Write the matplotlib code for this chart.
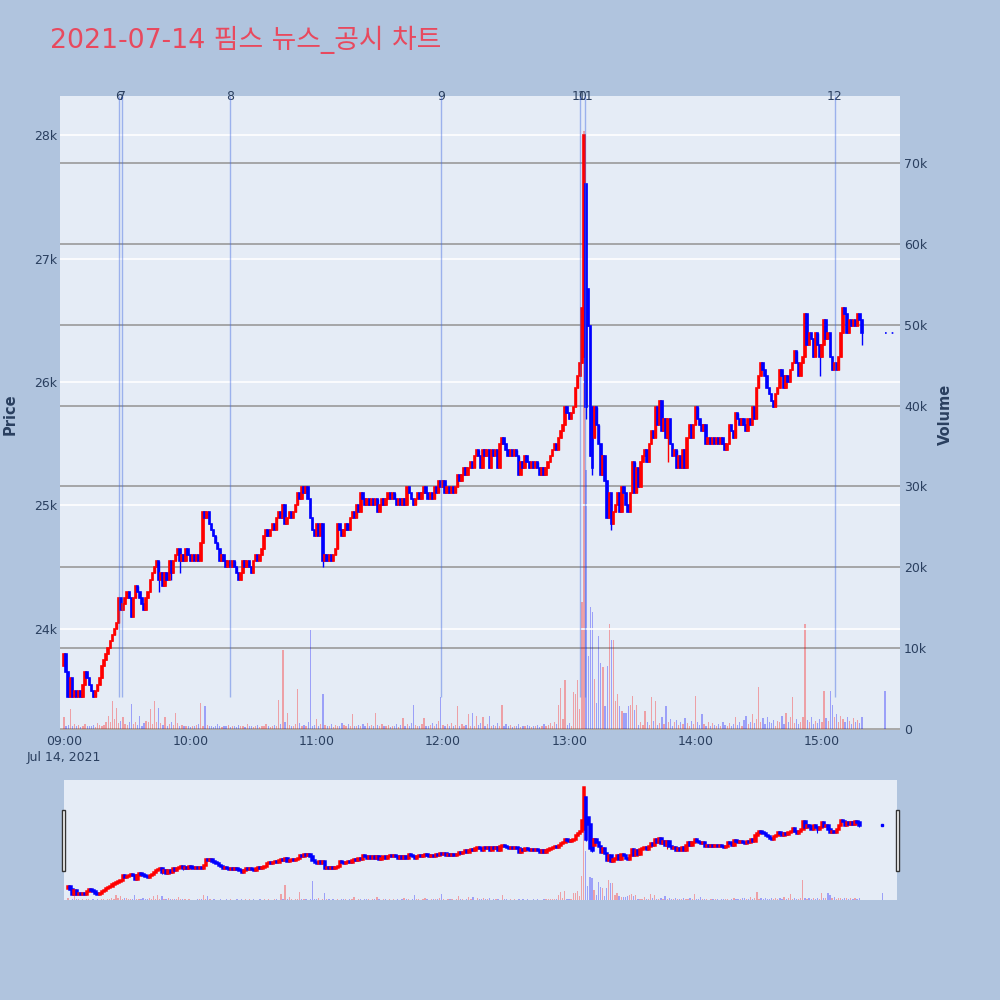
import matplotlib
matplotlib.use("Agg")
from matplotlib import pyplot as plt
from matplotlib.patches import Rectangle
from matplotlib.ticker import FuncFormatter
from matplotlib.transforms import blended_transform_factory

plt.rcParams["font.family"] = ["DejaVu Sans", "Noto Sans CJK KR"]

title = "2021-07-14 핌스 뉴스_공시 차트"
tick_labels = ["09:00", "10:00", "11:00", "12:00", "13:00", "14:00", "15:00"]
date_label = "Jul 14, 2021"

# minutes after 09:00, the last one is the 15:30 closing auction
minutes = list(range(380)) + [390]

closes = [
    23800, 23650, 23450, 23600, 23450, 23500, 23450, 23500, 23450, 23550,
    23650, 23600, 23550, 23500, 23450, 23500, 23550, 23600, 23700, 23750,
    23800, 23850, 23900, 23950, 24000, 24050, 24250, 24150, 24200, 24250,
    24300, 24250, 24100, 24250, 24350, 24300, 24250, 24200, 24150, 24250,
    24300, 24400, 24450, 24500, 24550, 24400, 24450, 24350, 24450, 24400,
    24550, 24450, 24550, 24600, 24650, 24550, 24600, 24550, 24650, 24600,
    24550, 24600, 24550, 24600, 24550, 24700, 24950, 24900, 24950, 24850,
    24800, 24750, 24700, 24650, 24550, 24600, 24550, 24500, 24550, 24500,
    24550, 24500, 24450, 24400, 24450, 24550, 24500, 24550, 24500, 24450,
    24550, 24600, 24550, 24600, 24650, 24750, 24800, 24750, 24800, 24850,
    24800, 24900, 24950, 24900, 25000, 24850, 24900, 24950, 24900, 24950,
    25000, 25100, 25050, 25150, 25100, 25150, 25050, 24900, 24800, 24750,
    24850, 24750, 24850, 24550, 24600, 24550, 24600, 24550, 24600, 24650,
    24850, 24800, 24750, 24800, 24850, 24800, 24900, 24950, 24900, 25000,
    24950, 25100, 25050, 25000, 25050, 25000, 25050, 25000, 25050, 24950,
    25000, 25050, 25000, 25050, 25100, 25050, 25100, 25050, 25000, 25050,
    25000, 25050, 25000, 25150, 25100, 25050, 25000, 25050, 25100, 25050,
    25100, 25150, 25100, 25050, 25100, 25050, 25150, 25100, 25200, 25150,
    25200, 25100, 25150, 25100, 25150, 25100, 25150, 25250, 25200, 25250,
    25300, 25250, 25300, 25350, 25300, 25400, 25450, 25400, 25300, 25450,
    25400, 25450, 25300, 25450, 25400, 25450, 25300, 25500, 25550, 25500,
    25450, 25400, 25450, 25400, 25450, 25400, 25250, 25350, 25300, 25400,
    25350, 25300, 25350, 25300, 25350, 25300, 25250, 25300, 25250, 25300,
    25350, 25400, 25450, 25500, 25450, 25550, 25600, 25650, 25800, 25750,
    25700, 25750, 25800, 25950, 26050, 26150, 26600, 28000, 25800, 26450,
    25400, 25300, 25800, 25650, 25500, 25250, 25400, 25200, 24900, 25100,
    24850, 24950, 25000, 25100, 24950, 25150, 25100, 25000, 24950, 25100,
    25350, 25100, 25300, 25150, 25350, 25400, 25450, 25350, 25500, 25600,
    25550, 25800, 25650, 25850, 25600, 25700, 25550, 25700, 25500, 25400,
    25450, 25300, 25400, 25300, 25450, 25300, 25550, 25650, 25550, 25650,
    25800, 25700, 25650, 25600, 25650, 25500, 25550, 25500, 25550, 25500,
    25550, 25500, 25550, 25500, 25450, 25500, 25650, 25600, 25550, 25750,
    25700, 25650, 25700, 25650, 25600, 25700, 25650, 25800, 25700, 25950,
    26050, 26150, 26100, 26050, 25950, 25900, 25850, 25800, 25900, 25950,
    26100, 26050, 25950, 26050, 26000, 26100, 26150, 26250, 26150, 26050,
    26150, 26200, 26550, 26300, 26400, 26350, 26200, 26400, 26300, 26200,
    26300, 26500, 26350, 26400, 26200, 26100, 26150, 26100, 26200, 26400,
    26600, 26550, 26400, 26500, 26450, 26500, 26450, 26550, 26500, 26400,
    26400,
]

volumes = [
    1400, 300, 500, 2500, 400, 600, 300, 500, 200, 400,
    600, 300, 400, 300, 500, 200, 700, 450, 300, 500,
    900, 1600, 800, 3500, 1200, 2600, 700, 1000, 1400, 600,
    500, 800, 3100, 600, 800, 500, 1600, 400, 700, 1000,
    800, 2400, 600, 3400, 900, 2600, 700, 500, 1400, 400,
    600, 800, 500, 2000, 700, 400, 500, 300, 400, 300,
    200, 300, 400, 500, 600, 3200, 400, 2800, 500, 300,
    400, 200, 300, 600, 300, 200, 400, 300, 500, 200,
    300, 400, 200, 500, 300, 400, 200, 600, 300, 400,
    200, 300, 500, 200, 400, 300, 600, 300, 200, 400,
    500, 300, 3600, 600, 9700, 800, 2000, 500, 300, 400,
    600, 4900, 700, 400, 500, 300, 800, 12200, 400, 500,
    1200, 300, 600, 4300, 500, 400, 300, 600, 200, 500,
    300, 400, 700, 500, 300, 600, 400, 1800, 300, 400,
    500, 300, 600, 400, 700, 300, 500, 400, 2000, 500,
    300, 600, 400, 300, 500, 200, 400, 300, 600, 200,
    500, 1300, 400, 600, 300, 700, 3000, 500, 400, 300,
    600, 1300, 400, 300, 500, 700, 400, 600, 1000, 3900,
    500, 300, 600, 400, 700, 300, 500, 2800, 400, 600,
    300, 500, 1800, 400, 2000, 300, 1600, 500, 700, 1400,
    400, 600, 1600, 300, 500, 400, 700, 300, 3000, 400,
    600, 300, 500, 200, 400, 300, 600, 200, 400, 300,
    500, 300, 200, 400, 300, 500, 200, 300, 600, 400,
    500, 700, 400, 900, 600, 3000, 5100, 1200, 6000, 500,
    700, 400, 4500, 4300, 6000, 2500, 15700, 74000, 32000, 9000,
    15100, 14400, 6200, 3200, 11500, 8200, 7600, 2800, 7800, 13000,
    11000, 11000, 3400, 4300, 2800, 2200, 2000, 2000, 2800, 3000,
    4100, 2300, 3000, 500, 800, 500, 2200, 800, 500, 3900,
    1000, 3400, 500, 700, 1500, 600, 2800, 900, 1200, 400,
    800, 1100, 500, 900, 600, 1300, 700, 400, 1000, 600,
    4100, 800, 500, 1800, 600, 400, 900, 300, 700, 500,
    400, 600, 300, 800, 500, 400, 700, 300, 600, 1400,
    500, 800, 400, 1100, 1600, 600, 900, 1800, 700, 1200,
    5200, 800, 1300, 600, 1500, 900, 700, 1100, 400, 1000,
    800, 1600, 600, 2000, 900, 1400, 3900, 700, 1200, 600,
    900, 1500, 13000, 1100, 800, 1400, 600, 1000, 700, 1200,
    900, 4700, 1300, 1000, 4700, 3000, 1400, 1800, 900, 1600,
    1200, 800, 1500, 1000, 600, 1300, 900, 1100, 700, 1400,
    4700,
]

first_open = 23700
# candles whose open is not the previous close
open_fix = {247: 26200, 248: 27600, 249: 26750, 251: 25800, 252: 25550}
# lower wicks
low_fix = {45: 24300, 51: 24400, 55: 24450, 123: 24500, 248: 25700,
           251: 25250, 260: 24800, 287: 25350, 359: 26050, 379: 26300}

news_no = ["6", "7", "8", "9", "10", "11", "12"]
news_time = ["09:26:05", "09:27:35", "10:19:00", "11:59:05",
             "13:05:05", "13:07:40", "15:06:10"]

assert len(closes) == len(minutes) == len(volumes)


def to_min(s):
    h, m, sec = s.split(":")
    return (int(h) - 9) * 60 + int(m) + int(sec) / 60


opens = [first_open] + closes[:-1]
for k, v in open_fix.items():
    opens[k] = v
highs = [max(o, c) for o, c in zip(opens, closes)]
lows = [min(o, c) for o, c in zip(opens, closes)]
for k, v in low_fix.items():
    lows[k] = v
RED = "#ff0000"
BLUE = "#0000ff"
cols = [RED if c > o else BLUE for o, c in zip(opens, closes)]

TXT = "#2a3f5f"
PLOT_BG = "#e5ecf6"
xlim = (-1.9, 397.1)
plim = (23182, 28316)
vlim = (-150, 78300)
n = len(closes) - 1  # regular session candles


def draw_candles(a, body_w, lw, wick_lw):
    t = minutes[:n]
    bottoms = [min(o, c) for o, c in zip(opens[:n], closes[:n])]
    heights = [max(abs(c - o), 5) for o, c in zip(opens[:n], closes[:n])]
    a.vlines(t, lows[:n], highs[:n], colors=cols[:n], lw=wick_lw, zorder=3)
    a.bar(t, heights, width=body_w, bottom=bottoms, color=cols[:n],
          edgecolor=cols[:n], linewidth=lw, zorder=4)


fig = plt.figure(figsize=(10, 10), dpi=100, facecolor="#b0c4de")

# main chart
ax = fig.add_axes([0.06, 0.27, 0.84, 0.634])
axv = ax.twinx()
ax.set_zorder(axv.get_zorder() + 1)
ax.patch.set_visible(False)
axv.patch.set_visible(True)
axv.patch.set_facecolor(PLOT_BG)

axv.bar(minutes, volumes, width=0.6, color=cols, alpha=0.32, linewidth=0)
axv.axhline(0, color="white", lw=2, zorder=0.5)
axv.set_ylim(*vlim)
axv.set_yticks(range(0, 70001, 10000))
axv.yaxis.set_major_formatter(FuncFormatter(lambda v, p: "0" if v == 0 else f"{int(v / 1000)}k"))
axv.grid(axis="y", color="#9a9a9a", lw=1.2)
axv.set_axisbelow(True)
axv.tick_params(axis="y", length=0, pad=3, labelsize=9, labelcolor=TXT)

draw_candles(ax, 0.7, 1.2, 1.0)
ax.hlines(closes[-1], minutes[-1], minutes[-1] + 6, colors=BLUE,
          linestyles=(0, (1, 3)), lw=1.2, zorder=4)

for lab, s in zip(news_no, news_time):
    t = to_min(s)
    ax.vlines(t, min(lows), plim[1], colors="#4169e1", alpha=0.45, lw=1, zorder=5)
    ax.text(t, plim[1], lab, ha="center", va="center", fontsize=9,
            color=TXT, clip_on=False)

ax.set_xlim(*xlim)
ax.set_ylim(*plim)
ax.set_xticks(range(0, 361, 60))
ax.set_xticklabels(tick_labels)
ax.set_yticks(range(24000, 28001, 1000))
ax.yaxis.set_major_formatter(FuncFormatter(lambda v, p: f"{int(v / 1000)}k"))
ax.grid(axis="y", color="white", lw=1.2)
ax.grid(axis="x", visible=False)
ax.set_axisbelow(True)
ax.tick_params(axis="x", length=0, pad=3.5, labelsize=9, labelcolor=TXT)
ax.tick_params(axis="y", length=0, pad=2, labelsize=9, labelcolor=TXT)
ax.text(0, -0.043, date_label, transform=blended_transform_factory(ax.transData, ax.transAxes),
        ha="center", va="center", fontsize=9, color=TXT)
for a in (ax, axv):
    for sp in a.spines.values():
        sp.set_visible(False)

# range slider
axs = fig.add_axes([0.064, 0.10, 0.833, 0.12])
axsv = axs.twinx()
axs.set_zorder(axsv.get_zorder() + 1)
axs.patch.set_visible(False)
axsv.patch.set_visible(True)
axsv.patch.set_facecolor(PLOT_BG)
axsv.bar(minutes, volumes, width=0.6, color=cols, alpha=0.32, linewidth=0)
axsv.set_ylim(0, vlim[1])
draw_candles(axs, 0.7, 1.8, 0.8)
axs.plot(minutes[-1], closes[-1], "s", color=BLUE, ms=1.5)
axs.set_xlim(*xlim)
axs.set_ylim(*plim)
for a in (axs, axsv):
    a.set_xticks([])
    a.set_yticks([])
    for sp in a.spines.values():
        sp.set_visible(False)

for hx in (0.0615, 0.8955):
    fig.add_artist(Rectangle((hx, 0.129), 0.0037, 0.061, transform=fig.transFigure,
                             facecolor="white", edgecolor="#333333", lw=1))

fig.text(0.05, 0.96, title, fontsize=19.3, color="#e8495e", ha="left", va="center")
fig.text(0.010, 0.586, "Price", rotation=90, ha="center", va="center",
         fontsize=10.5, fontweight="bold", color=TXT)
fig.text(0.945, 0.586, "Volume", rotation=90, ha="center", va="center",
         fontsize=10.5, fontweight="bold", color=TXT)

fig.savefig("out.png", dpi=100, facecolor=fig.get_facecolor())
